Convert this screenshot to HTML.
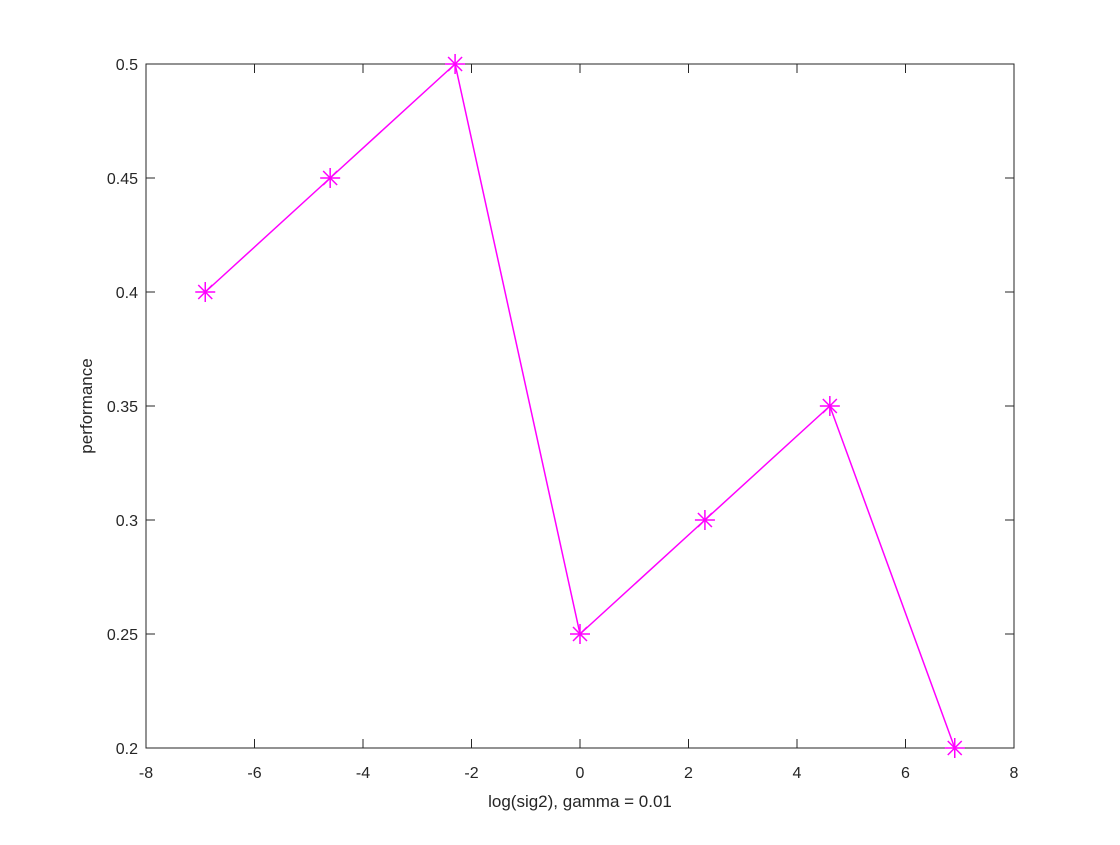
<!DOCTYPE html>
<html><head><meta charset="utf-8"><style>
body{margin:0;background:#fff}
svg text{font-family:"Liberation Sans",Arial,sans-serif;fill:#262626}
</style></head><body>
<svg id="chart" width="1120" height="840" xmlns="http://www.w3.org/2000/svg">
<rect x="0" y="0" width="1120" height="840" fill="#fff"/>
<g id="axes"></g>
<g id="plot"></g>
</svg>
<script>
const xValues = [-6.9078, -4.6052, -2.3026, 0, 2.3026, 4.6052, 6.9078];
const yValues = [0.40, 0.45, 0.50, 0.25, 0.30, 0.35, 0.20];
const xTicks = [-8, -6, -4, -2, 0, 2, 4, 6, 8];
const yTicks = [0.2, 0.25, 0.3, 0.35, 0.4, 0.45, 0.5];
const yTickLabels = ["0.2","0.25","0.3","0.35","0.4","0.45","0.5"];

const L=146,R=1014,T=64,B=748;
const xMin=-8,xMax=8,yMin=0.2,yMax=0.5;
function sx(v){return L+(v-xMin)/(xMax-xMin)*(R-L);}
function sy(v){return B-(v-yMin)/(yMax-yMin)*(B-T);}
const NS="http://www.w3.org/2000/svg";
function mk(tag,attrs,parent){const e=document.createElementNS(NS,tag);for(const k in attrs)e.setAttribute(k,attrs[k]);parent.appendChild(e);return e;}
const ax=document.getElementById('axes'), pl=document.getElementById('plot');

const box=mk('rect',{x:L,y:T,width:R-L,height:B-T,fill:'#fff',stroke:'#262626','stroke-width':1},ax);



xTicks.forEach(t=>{
  const x=sx(t);
  mk('line',{x1:x,y1:B,x2:x,y2:B-9,stroke:'#262626'},ax);
  mk('line',{x1:x,y1:T,x2:x,y2:T+9,stroke:'#262626'},ax);
  const tx=mk('text',{x:x,y:B+30,'text-anchor':'middle','font-size':16},ax);
  tx.textContent=String(t);
  
  
});
yTicks.forEach((t,i)=>{
  const y=sy(t);
  mk('line',{x1:L,y1:y,x2:L+9,y2:y,stroke:'#262626'},ax);
  mk('line',{x1:R,y1:y,x2:R-9,y2:y,stroke:'#262626'},ax);
  const tx=mk('text',{x:L-8,y:y+6,'text-anchor':'end','font-size':16},ax);
  tx.textContent=yTickLabels[i];
  
  
});
const xl=mk('text',{x:(L+R)/2,y:807,'text-anchor':'middle','font-size':17},ax);
xl.textContent='log(sig2), gamma = 0.01';


const yl=mk('text',{x:0,y:0,'text-anchor':'middle','font-size':17,transform:`translate(92,${(T+B)/2}) rotate(-90)`},ax);
yl.textContent='performance';



const pts=xValues.map((x,i)=>sx(x)+','+sy(yValues[i])).join(' ');
const line=mk('polyline',{points:pts,fill:'none',stroke:'#ff00ff','stroke-width':1.5},pl);


xValues.forEach((x,i)=>{
  const cx=sx(x),cy=sy(yValues[i]),r=10,d=7;
  const g=mk('g',{stroke:'#ff00ff','stroke-width':1.5},pl);
  
  
  mk('line',{x1:cx-r,y1:cy,x2:cx+r,y2:cy},g);
  mk('line',{x1:cx,y1:cy-r,x2:cx,y2:cy+r},g);
  mk('line',{x1:cx-d,y1:cy-d,x2:cx+d,y2:cy+d},g);
  mk('line',{x1:cx-d,y1:cy+d,x2:cx+d,y2:cy-d},g);
});
</script>
</body></html>
